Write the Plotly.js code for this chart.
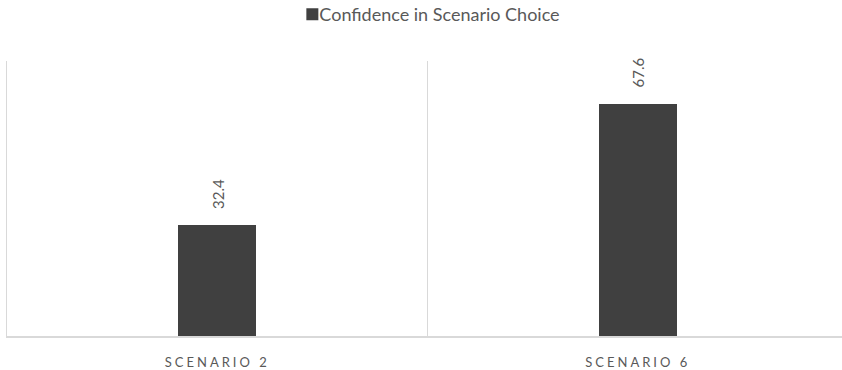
<!DOCTYPE html>
<html>
<head>
<meta charset="utf-8">
<script src="https://cdn.plot.ly/plotly-3.0.1.min.js"></script>
<style>
  html, body { margin: 0; padding: 0; background: #ffffff; }
  #chart { width: 842px; height: 370px; }
  .xtick text { letter-spacing: 3px; }
  /* pull the legend row up and bring the label closer to its swatch */
  .legendtext { transform: translate(-13px, -4px); }
  .legendsymbols { transform: translateY(-4px); }
</style>
</head>
<body>
<div id="chart"></div>
<script>
// Confidence in scenario choice, per scenario
const categories = ["SCENARIO 2", "SCENARIO 6"];
const confidence = [32.4, 67.6];
const seriesName = "Confidence in Scenario Choice";

const barColor = "#404040";
const textColor = "#595959";
const gridColor = "#d9d9d9";
const fontFamily = "Lato, 'Noto Sans', sans-serif";

const trace = {
  type: "bar",
  name: seriesName,
  x: categories,
  y: confidence,
  width: 0.186,
  marker: { color: barColor },
  hoverinfo: "x+y",
  showlegend: true
};

// Value labels, rotated, sitting just above each bar
const labels = categories.map((c, i) => ({
  x: c,
  y: confidence[i],
  xref: "x",
  yref: "y",
  text: confidence[i].toFixed(1),
  textangle: -90,
  showarrow: false,
  yanchor: "bottom",
  xanchor: "center",
  yshift: 14,
  font: { family: fontFamily, size: 15, color: textColor }
}));

const layout = {
  width: 842,
  height: 370,
  margin: { l: 7, r: 0, t: 61, b: 34 },
  paper_bgcolor: "#ffffff",
  plot_bgcolor: "#ffffff",
  showlegend: true,
  legend: {
    orientation: "h",
    x: 0.513,
    xanchor: "center",
    y: 1,
    yref: "container",
    yanchor: "top",
    font: { family: fontFamily, size: 18, color: textColor },
    itemwidth: 30
  },
  xaxis: {
    type: "category",
    range: [-0.5, 1.4857],
    tickson: "boundaries",
    showgrid: true,
    gridcolor: gridColor,
    gridwidth: 1,
    showline: true,
    linecolor: gridColor,
    linewidth: 1.5,
    ticks: "",
    ticklabelstandoff: 14,
    tickfont: { family: fontFamily, size: 13, color: textColor },
    fixedrange: true
  },
  yaxis: {
    range: [0, 80],
    showgrid: false,
    zeroline: false,
    showline: true,
    linecolor: gridColor,
    linewidth: 1.5,
    showticklabels: false,
    ticks: "",
    fixedrange: true
  },
  annotations: labels,
  bargap: 0
};

Plotly.newPlot("chart", [trace], layout, { displayModeBar: false, staticPlot: true });
</script>
</body>
</html>
